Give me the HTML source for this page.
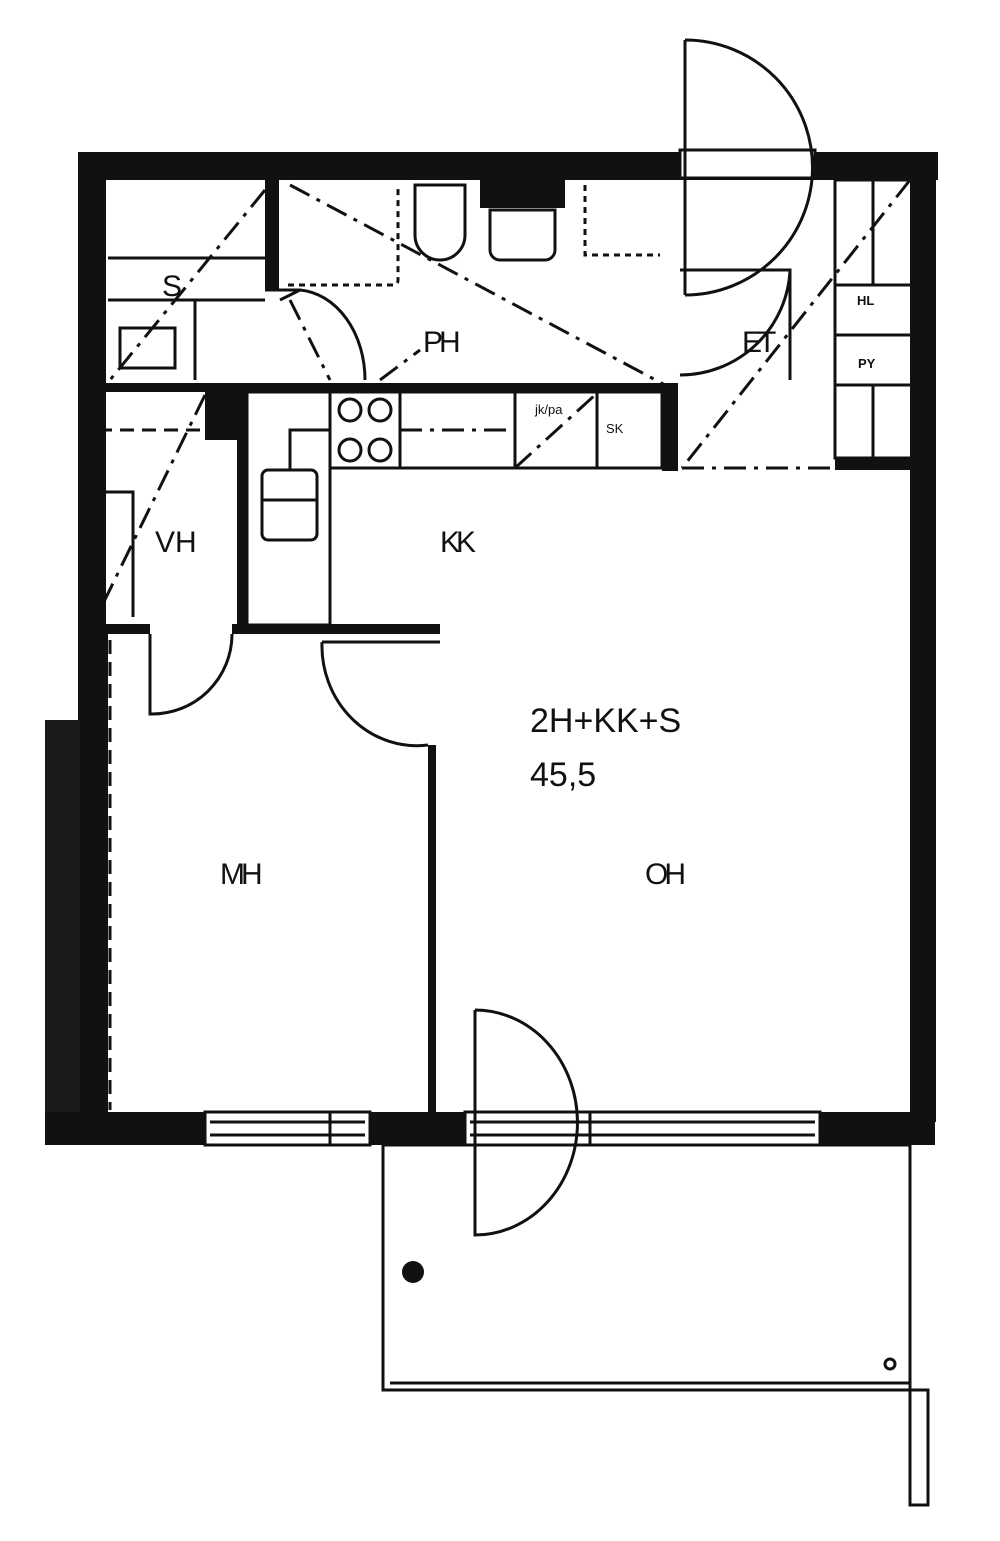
<!DOCTYPE html>
<html><head><meta charset="utf-8"><style>
html,body{margin:0;padding:0;background:#fff}
svg{display:block}
text{font-family:"Liberation Sans",sans-serif;fill:#111}
</style></head><body>
<svg width="1000" height="1541" viewBox="0 0 1000 1541" xmlns="http://www.w3.org/2000/svg">
<rect width="1000" height="1541" fill="#fff"/>
<g fill="#111">
<rect x="78" y="152" width="860" height="28"/>
<rect x="78" y="152" width="28" height="970"/>
<rect x="45" y="720" width="35" height="425" fill="#1a1a1a"/>
<rect x="910" y="152" width="26" height="970"/>
<rect x="45" y="1112" width="890" height="33"/>
<rect x="265" y="180" width="14" height="110"/>
<rect x="105" y="383" width="570" height="9"/>
<rect x="662" y="383" width="16" height="88"/>
<rect x="480" y="180" width="85" height="28"/>
<rect x="237" y="390" width="10" height="235"/>
<rect x="205" y="390" width="32" height="50"/>
<rect x="92" y="624" width="58" height="10"/>
<rect x="232" y="624" width="208" height="10"/>
<rect x="428" y="745" width="8" height="368"/>
<rect x="835" y="458" width="77" height="12"/>
<rect x="92" y="390" width="6" height="235"/>
<rect x="92" y="630" width="16" height="482"/>
</g>
<g fill="#fff" stroke="#111" stroke-width="3">
<rect x="205" y="1112" width="165" height="33"/>
<rect x="465" y="1112" width="355" height="33"/>
<rect x="680" y="150" width="135" height="28"/>
</g>
<g stroke="#111" stroke-width="3" fill="none">
<line x1="210" y1="1122" x2="365" y2="1122"/><line x1="210" y1="1135" x2="365" y2="1135"/>
<line x1="470" y1="1122" x2="815" y2="1122"/><line x1="470" y1="1135" x2="815" y2="1135"/>
<line x1="330" y1="1112" x2="330" y2="1145"/><line x1="590" y1="1112" x2="590" y2="1145"/>
<rect x="383" y="1145" width="527" height="245" stroke-width="3"/>
<line x1="390" y1="1383" x2="910" y2="1383"/>
<rect x="910" y="1390" width="18" height="115" stroke-width="3"/>
<circle cx="890" cy="1364" r="5"/>
<line x1="108" y1="258" x2="265" y2="258"/>
<line x1="108" y1="300" x2="265" y2="300"/>
<rect x="120" y="328" width="55" height="40"/>
<line x1="195" y1="300" x2="195" y2="380"/>
<line x1="265" y1="290" x2="300" y2="290"/>
<path d="M280,300 L300,290 A70,90 0 0 1 365,380" />
<path d="M415,185 h50 v50 a25,25 0 0 1 -50,0 z"/>
<path d="M490,210 h65 v40 a10,10 0 0 1 -10,10 h-45 a10,10 0 0 1 -10,-10 z"/>
<path d="M288,285 h105 q5,0 5,-5 v-95" stroke-dasharray="6,5"/>
<path d="M585,185 v70 h75" stroke-dasharray="6,5"/>
<path d="M685,40 A125,125 0 0 1 685,295 M685,40 v255"/>
<path d="M680,270 h110 v110"/>
<path d="M680,375 A110,110 0 0 0 790,270"/>
<rect x="835" y="180" width="77" height="278"/>
<line x1="835" y1="285" x2="912" y2="285"/>
<line x1="835" y1="335" x2="912" y2="335"/>
<line x1="835" y1="385" x2="912" y2="385"/>
<line x1="873" y1="180" x2="873" y2="285"/>
<line x1="873" y1="385" x2="873" y2="458"/>
<rect x="330" y="392" width="332" height="76"/>
<line x1="400" y1="392" x2="400" y2="468"/>
<line x1="515" y1="392" x2="515" y2="468"/>
<line x1="597" y1="392" x2="597" y2="468"/>
<circle cx="350" cy="410" r="11"/><circle cx="380" cy="410" r="11"/>
<circle cx="350" cy="450" r="11"/><circle cx="380" cy="450" r="11"/>
<rect x="247" y="392" width="83" height="233"/>
<rect x="262" y="470" width="55" height="70" rx="6"/>
<line x1="262" y1="500" x2="317" y2="500"/>
<path d="M290,470 v-40 h40"/>
<line x1="98" y1="430" x2="205" y2="430" stroke-dasharray="14,8"/>
<path d="M98,492 h35 v125"/>
<path d="M150,634 v80 A80,80 0 0 0 232,634"/>
<path d="M322,642 A95,100 0 0 0 428,745" />
<line x1="322" y1="642" x2="440" y2="642"/>
<path d="M475,1010 v225 A102,112 0 0 0 475,1010"/>
<line x1="110" y1="640" x2="110" y2="1110" stroke-dasharray="14,8"/>
<g stroke-dasharray="22,8,4,8">
<line x1="265" y1="190" x2="110" y2="380"/>
<line x1="205" y1="395" x2="95" y2="620"/>
<line x1="290" y1="185" x2="665" y2="385"/>
<line x1="910" y1="180" x2="682" y2="468"/>
<line x1="682" y1="468" x2="832" y2="468"/>
<line x1="400" y1="430" x2="515" y2="430"/>
<line x1="515" y1="468" x2="595" y2="395"/>
<line x1="290" y1="300" x2="330" y2="380"/>
<line x1="380" y1="380" x2="420" y2="350"/>
</g>
</g>
<circle cx="413" cy="1272" r="11" fill="#111"/>
<text x="162" y="296" font-size="30">S</text>
<text x="423" y="352" font-size="30" letter-spacing="-4">PH</text>
<text x="742" y="352" font-size="30" letter-spacing="-4">ET</text>
<text x="857" y="305" font-size="13" font-weight="bold">HL</text>
<text x="858" y="368" font-size="13" font-weight="bold">PY</text>
<text x="535" y="414" font-size="13">jk/pa</text>
<text x="606" y="433" font-size="13">SK</text>
<text x="155" y="552" font-size="30">VH</text>
<text x="440" y="552" font-size="30" letter-spacing="-4">KK</text>
<text x="530" y="732" font-size="34">2H+KK+S</text>
<text x="530" y="786" font-size="34">45,5</text>
<text x="220" y="884" font-size="30" letter-spacing="-4">MH</text>
<text x="645" y="884" font-size="30" letter-spacing="-4">OH</text>
</svg>
</body></html>
